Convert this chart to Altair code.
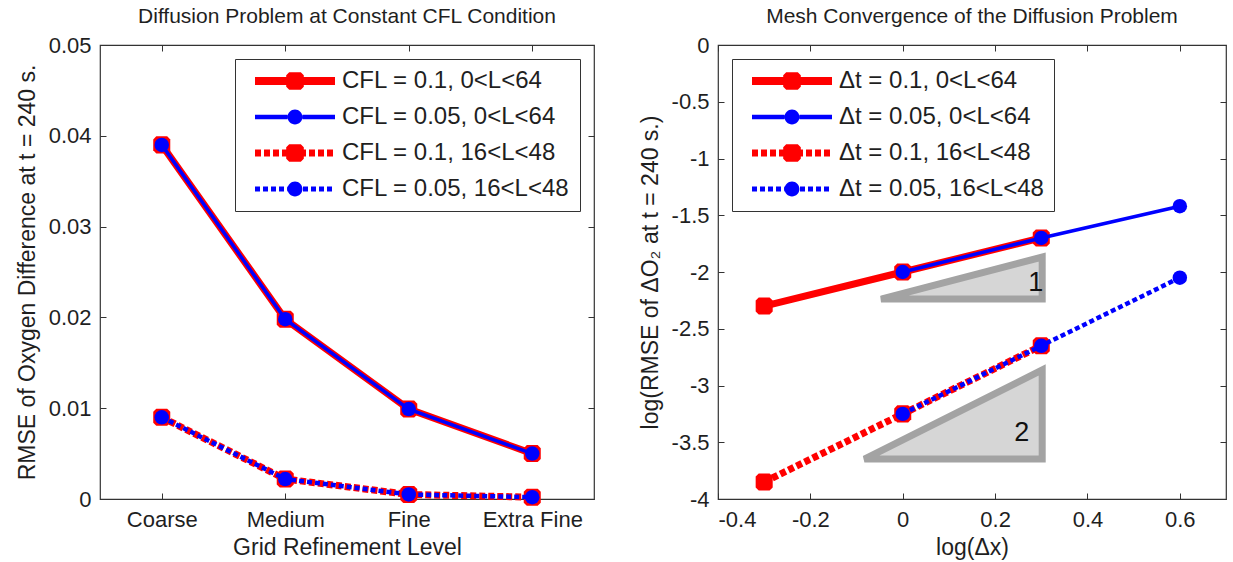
import altair as alt
import pandas as pd

# ---- data ---------------------------------------------------------------
levels = ["Coarse", "Medium", "Fine", "Extra Fine"]

left_names = [
    "CFL = 0.1, 0<L<64",
    "CFL = 0.05, 0<L<64",
    "CFL = 0.1, 16<L<48",
    "CFL = 0.05, 16<L<48",
]
left_values = [
    [0.0390, 0.0198, 0.0099, 0.0050],
    [0.0390, 0.0198, 0.0099, 0.0050],
    [0.0090, 0.0022, 0.0005, 0.0002],
    [0.0090, 0.0022, 0.0005, 0.0002],
]

right_names = [
    "Δt = 0.1, 0<L<64",
    "Δt = 0.05, 0<L<64",
    "Δt = 0.1, 16<L<48",
    "Δt = 0.05, 16<L<48",
]
right_x = [
    [-0.3, 0.0, 0.3],
    [0.0, 0.3, 0.6],
    [-0.3, 0.0, 0.3],
    [0.0, 0.3, 0.6],
]
right_y = [
    [-2.30, -2.00, -1.70],
    [-2.00, -1.70, -1.42],
    [-3.85, -3.25, -2.65],
    [-3.25, -2.65, -2.05],
]

# slope triangles: left x, right x, bottom y, top y, label position and text
tri_x0 = [-0.047, -0.083]
tri_x1 = [0.302, 0.302]
tri_ybot = [-2.238, -3.648]
tri_ytop = [-1.868, -2.863]
tri_label_x = [0.288, 0.258]
tri_label_y = [-2.10, -3.42]
tri_label = ["1", "2"]

left_yticks = [0, 0.01, 0.02, 0.03, 0.04, 0.05]
right_xticks = [-0.4, -0.2, 0, 0.2, 0.4, 0.6]
right_yticks = [0, -0.5, -1, -1.5, -2, -2.5, -3, -3.5, -4]

# ---- styling ------------------------------------------------------------
FONT = "Liberation Sans"
TXT = "#1f1f1f"
colors = ["#ff0000", "#0000ff", "#ff0000", "#0000ff"]
widths = [7, 3.5, 7, 4.5]
legend_widths = [8, 4.5, 7, 5]
dashes = [None, None, [6, 3], [5, 3]]
markers = ["oct", "circle", "oct", "circle"]


def octagon(h, c):
    """Closed octagon path of half-width h with corners cut by c."""
    a = h - c
    pts = [(-a, -h), (a, -h), (h, -a), (h, a), (a, h), (-a, h), (-h, a), (-h, -a)]
    return "M" + "L".join(f"{x:.3f},{y:.3f}" for x, y in pts) + "Z"


def circle(r):
    return f"M{r},0A{r},{r} 0 1 1 {-r},0A{r},{r} 0 1 1 {r},0Z"


def legend_glyph(marker, width_px, dash):
    """Filled glyph (10 px per unit): a line, solid or dashed, with a marker."""
    L = 4.0
    t = width_px / 20.0
    r = 0.88 if marker == "oct" else 0.74
    if dash is None:
        segs = [(-L, -r), (r, L)]
    else:
        on, off = dash[0] / 10.0, dash[1] / 10.0
        segs, a = [], -L
        while a < L:
            b = min(a + on, L)
            for lo, hi in ((a, min(b, -r)), (max(a, r), b)):
                if hi - lo > 0.05:
                    segs.append((lo, hi))
            a += on + off
    parts = [f"M{lo:.3f},{-t:.3f}H{hi:.3f}V{t:.3f}H{lo:.3f}Z" for lo, hi in segs]
    parts.append(octagon(r, 0.3) if marker == "oct" else circle(r))
    return "".join(parts)


glyphs = [legend_glyph(m, w, d) for m, w, d in zip(markers, legend_widths, dashes)]
OCT = octagon(1.0, 0.36)

TICK = 6
label_expr = "'' + datum.value"


def axis(orient, values=None, title=None, labels=True):
    vertical = orient in ("left", "right")
    kw = dict(
        orient=orient, offset=-TICK, tickSize=TICK, domain=False, grid=False,
        tickColor="#333333", tickWidth=1, labels=labels, labelAngle=0,
        labelFont=FONT, labelFontSize=22, labelColor=TXT,
        labelPadding=9 if vertical else 10,
        titleFont=FONT, titleFontSize=23, titleFontWeight="normal",
        titleColor=TXT, titlePadding=9 if vertical else 6,
        title=title,
    )
    if values is not None:
        kw["values"] = values
    if labels:
        kw["labelExpr"] = label_expr
    return alt.Axis(**kw)


def panel(df, xfield, xtype, xscale, xvals, xtitle, yscale, yvals, ytitle,
          names, title, width, legend_orient, extra=()):
    base = alt.Chart(df)

    def X(ax=None):
        if xtype == "N":
            return alt.X(f"{xfield}:N", scale=xscale, axis=ax, sort=levels)
        return alt.X(f"{xfield}:Q", scale=xscale, axis=ax)

    def Y(ax=None):
        return alt.Y("y:Q", scale=yscale, axis=ax)

    layers = list(extra)
    for i, name in enumerate(names):
        sub = base.transform_filter(alt.datum.series == name)
        line_kw = dict(color=colors[i], strokeWidth=widths[i])
        if dashes[i] is not None:
            line_kw["strokeDash"] = dashes[i]
        layers.append(sub.mark_line(**line_kw).encode(x=X(), y=Y()))
        if markers[i] == "oct":
            pt = sub.mark_point(shape=OCT, filled=True, color=colors[i],
                                size=290, opacity=1)
        else:
            pt = sub.mark_circle(color=colors[i], size=210, opacity=1)
        layers.append(pt.encode(x=X(), y=Y()))

    # axes on all four sides, ticks pointing inwards
    empty = base.transform_filter("false")
    frame_main = empty.mark_point(opacity=0).encode(
        x=X(axis("bottom", xvals, xtitle)),
        y=Y(axis("left", yvals, ytitle)),
    )
    frame_mirror = empty.mark_point(opacity=0).encode(
        x=X(axis("top", xvals, None, labels=False)),
        y=Y(axis("right", yvals, None, labels=False)),
    )

    # legend built from a layer that draws nothing
    leg = alt.Legend(
        title=None, orient=legend_orient, offset=14, padding=10,
        fillColor="white", strokeColor="#333333",
        labelFont=FONT, labelFontSize=24, labelColor=TXT,
        symbolSize=400, symbolOffset=38, labelOffset=35, rowPadding=12,
        symbolStrokeWidth=0, labelLimit=400,
    )
    sc = dict(domain=names)
    legend_layer = empty.mark_point(filled=True, opacity=1, strokeWidth=0).encode(
        shape=alt.Shape("series:N", scale=alt.Scale(range=glyphs, **sc), legend=leg),
        fill=alt.Fill("series:N", scale=alt.Scale(range=colors, **sc)),
    )

    return alt.layer(*layers, frame_main, frame_mirror, legend_layer).properties(
        width=width, height=454,
        title=alt.Title(title, font=FONT, fontSize=21, fontWeight="normal",
                        color=TXT, offset=7),
    )


# left panel: error against grid level
rows = []
for name, vals in zip(left_names, left_values):
    for lvl, v in zip(levels, vals):
        rows.append({"series": name, "level": lvl, "y": v})
left_df = pd.DataFrame(rows)

left = panel(
    left_df, "level", "N",
    alt.Scale(type="point", domain=levels, padding=0.5),
    None, "Grid Refinement Level",
    alt.Scale(domain=[0, 0.05], nice=False, zero=False), left_yticks,
    "RMSE of Oxygen Difference at t = 240 s.",
    left_names, "Diffusion Problem at Constant CFL Condition", 494,
    "top-right",
)

# right panel: log-log convergence with slope triangles
rows = []
for name, xs, ys in zip(right_names, right_x, right_y):
    for xv, yv in zip(xs, ys):
        rows.append({"series": name, "x": xv, "y": yv})
right_df = pd.DataFrame(rows)

xsc = alt.Scale(domain=[-0.4, 0.7], nice=False, zero=False)
ysc = alt.Scale(domain=[-4, 0], nice=False, zero=False)

tri_rows = []
for k in range(len(tri_x0)):
    tri_rows.append({"tri": k, "x": tri_x0[k], "y": tri_ybot[k], "y2": tri_ybot[k]})
    tri_rows.append({"tri": k, "x": tri_x1[k], "y": tri_ytop[k], "y2": tri_ybot[k]})
tri_df = pd.DataFrame(tri_rows)
triangles = alt.Chart(tri_df).mark_area(
    fill="#d6d6d6", stroke="#a3a3a3", strokeWidth=7, strokeJoin="miter",
    opacity=1,
).encode(
    x=alt.X("x:Q", scale=xsc, axis=None),
    y=alt.Y("y:Q", scale=ysc, axis=None),
    y2="y2:Q",
    detail="tri:N",
)
tri_text = alt.Chart(pd.DataFrame({
    "x": tri_label_x, "y": tri_label_y, "t": tri_label,
})).mark_text(font=FONT, fontSize=27, color="#111111", align="center",
              baseline="middle").encode(
    x=alt.X("x:Q", scale=xsc, axis=None),
    y=alt.Y("y:Q", scale=ysc, axis=None),
    text="t:N",
)

right = panel(
    right_df, "x", "Q", xsc, right_xticks, "log(Δx)",
    ysc, right_yticks, "log(RMSE of ΔO₂ at t = 240 s.)",
    right_names, "Mesh Convergence of the Diffusion Problem", 508,
    "top-left", extra=(triangles, tri_text),
)

chart = alt.hconcat(left, right, spacing=42).resolve_scale(
    shape="independent", fill="independent",
).configure_view(
    stroke="#333333", strokeWidth=1.2,
).properties(
    padding={"left": 15, "top": 5, "right": 0, "bottom": 0},
    background="white",
)

chart.save("out.html", embed_options={"renderer": "svg", "actions": False})
